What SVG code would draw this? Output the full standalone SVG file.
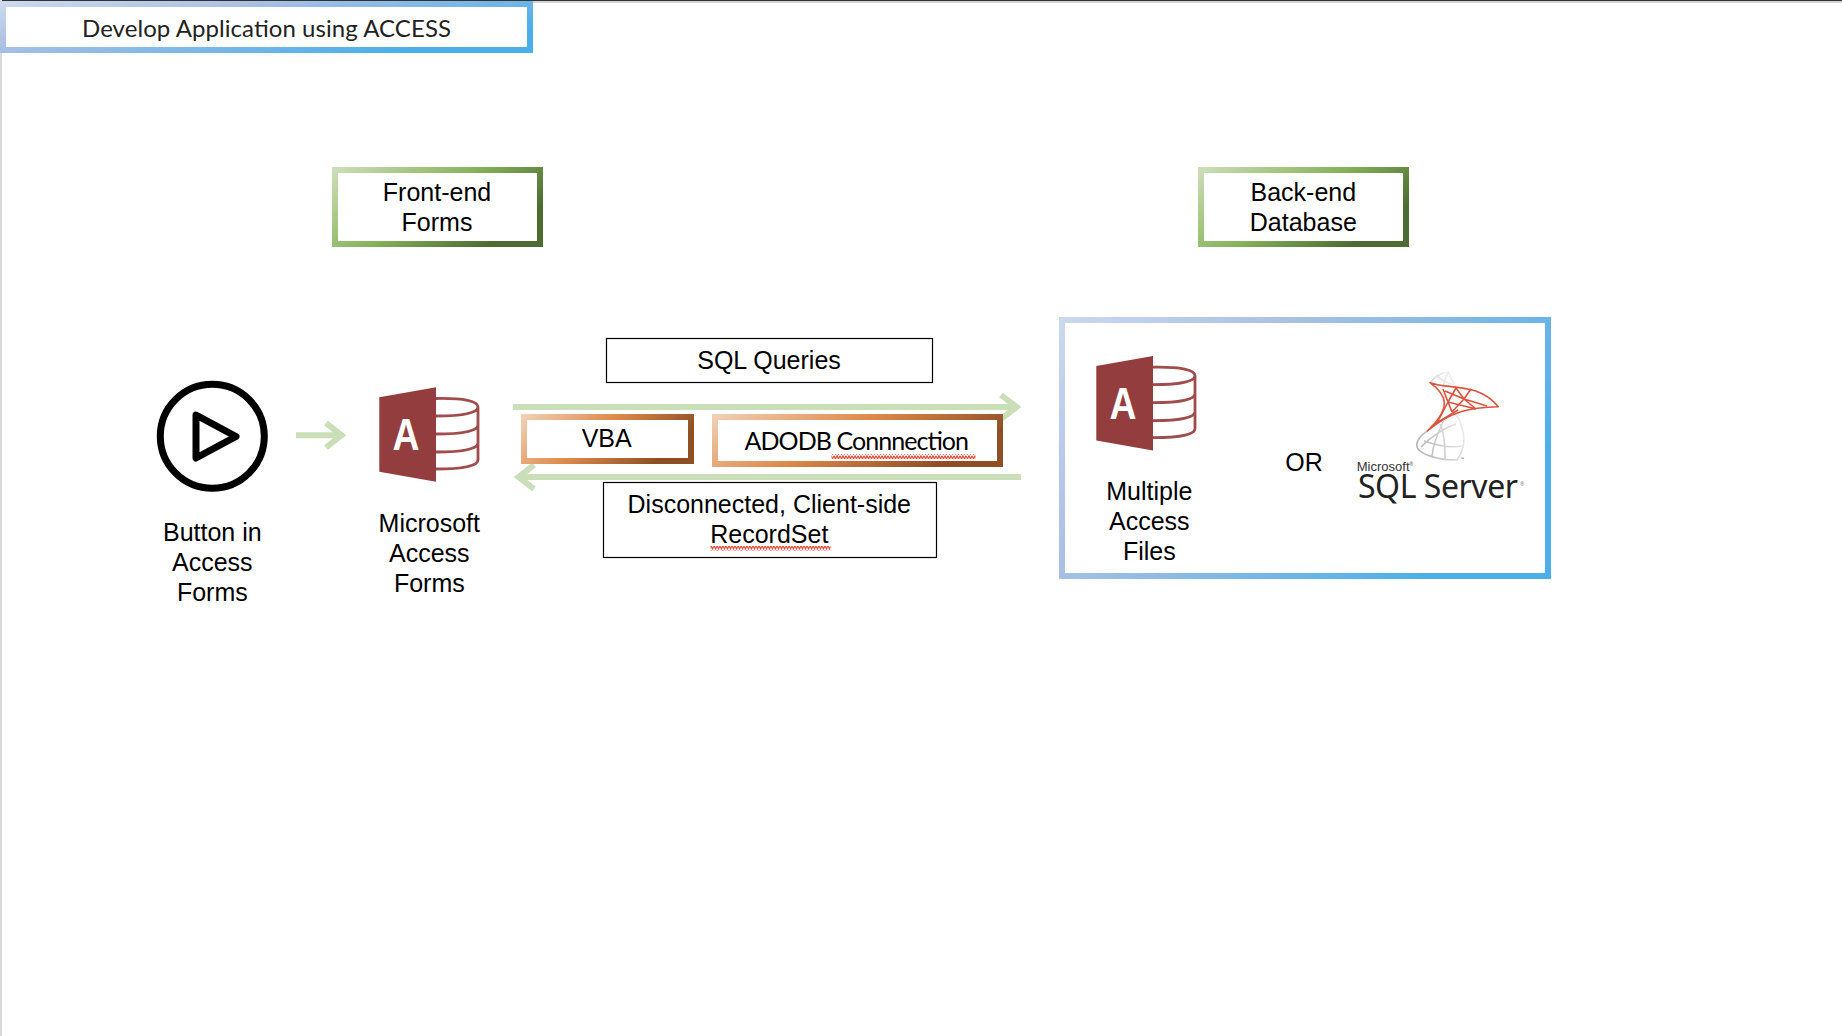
<svg xmlns="http://www.w3.org/2000/svg" xmlns:xlink="http://www.w3.org/1999/xlink" width="1842" height="1036" viewBox="0 0 1842 1036">
<style>
text{font-family:"Liberation Sans",Arial,sans-serif;font-size:25px;fill:#000;text-anchor:middle}
.cal{font-family:Lato,"Liberation Sans",sans-serif}
.box{fill:#fff;stroke:#000;stroke-width:1.2}
.bb{fill:#fff;stroke-width:6}
.conn{fill:none;stroke:#CADFB8;stroke-width:6}
.red{fill:none;stroke:#D9543F;stroke-width:1.6;stroke-linejoin:round}
.gry{fill:none;stroke:url(#grayFade);stroke-width:1.6;stroke-linejoin:round}
.acc{fill:none;stroke:#A14C4C;stroke-width:2.8}
</style>
<defs>
<linearGradient id="blue" x1="0" y1="0" x2="1" y2=".5"><stop offset="0" stop-color="#CBD8EE"/><stop offset=".35" stop-color="#ADC1E3"/><stop offset="1" stop-color="#4CAFEA"/></linearGradient>
<linearGradient id="green" x1="0" y1="0" x2="1" y2=".5"><stop offset="0" stop-color="#CBDDB6"/><stop offset=".55" stop-color="#86B25A"/><stop offset="1" stop-color="#4E6B34"/></linearGradient>
<linearGradient id="orange" x1="0" y1="0" x2="1" y2=".3"><stop offset="0" stop-color="#F0CFB4"/><stop offset=".5" stop-color="#DE8A4B"/><stop offset="1" stop-color="#8E4F25"/></linearGradient>
<linearGradient id="grayFade" gradientUnits="userSpaceOnUse" x1="1417" y1="445" x2="1466" y2="430"><stop offset="0" stop-color="#B4B4B4"/><stop offset="1" stop-color="#EDEDED"/></linearGradient>
<pattern id="wave" width="6" height="5" patternUnits="userSpaceOnUse"><path d="M0 .8L1.500 4L3 .8L4.500 4L6 .8" fill="none" stroke="#E8412F" stroke-width="1.100"/></pattern>
<g id="accessIcon">
<path d="M379.300 397.300L436 387.300V481.700L379.300 471.700Z" fill="#943D3E"/>
<path class="acc" d="M436 398.500C464 398 478 401 478 407V460C478 466 462 469 436 469M436 416C462 416 478 413 478 407M436 434C462 434 478 431 478 425M436 452C462 452 478 449 478 443"/>
<text x="406" y="450" textLength="27" lengthAdjust="spacingAndGlyphs" style="font-size:44px;font-weight:700;fill:#fff">A</text>
</g>
</defs>
<rect width="1842" height="1036" fill="#fff"/>
<g id="frame"><rect width="1842" height="3" fill="#D4D4D4"/><rect width="1842" height="1" fill="#333"/><rect y="0" width="2" height="1036" fill="#DADADA"/></g>
<g id="connectors">
<path class="conn" d="M296 435.300H341M326 423L341.500 435.300L326 447.500"/>
<path class="conn" d="M513 407H1016M1001 395L1016.500 407L1001 419"/>
<path class="conn" d="M1021 477H519M534 465L518.500 477L534 489"/>
</g>
<g id="title"><rect class="bb" x="3" y="4" width="527" height="46" stroke="url(#blue)"/><text class="cal" x="266.500" y="37" textLength="369" style="fill:#222;font-size:24px">Develop Application using ACCESS</text></g>
<g id="frontend"><rect class="bb" x="335" y="170" width="205" height="74" stroke="url(#green)"/><text x="437" y="200.700">Front-end</text><text x="437" y="230.700">Forms</text></g>
<g id="backend"><rect class="bb" x="1201" y="170" width="205" height="74" stroke="url(#green)"/><text x="1303.300" y="200.700">Back-end</text><text x="1303.300" y="230.700">Database</text></g>
<g id="button">
<circle cx="212.300" cy="436.300" r="52" fill="none" stroke="#000" stroke-width="7"/>
<path d="M196 415L236 436.500L196 458Z" fill="none" stroke="#000" stroke-width="7" stroke-linejoin="round"/>
<text x="212.300" y="541">Button in</text><text x="212.300" y="571">Access</text><text x="212.300" y="601">Forms</text>
</g>
<g id="forms">
<use href="#accessIcon"/>
<text x="429.300" y="532">Microsoft</text><text x="429.300" y="562">Access</text><text x="429.300" y="592">Forms</text>
</g>
<g id="sql"><rect class="box" x="606.500" y="338.500" width="326" height="44"/><text x="769" y="368.700">SQL Queries</text></g>
<g id="vba"><rect class="bb" x="524" y="417" width="167" height="44" stroke="url(#orange)"/><text x="606.700" y="446.700">VBA</text></g>
<g id="adodb"><rect class="bb" x="715" y="417" width="285" height="47" stroke="url(#orange)"/><text class="cal" x="856.800" y="450" textLength="224.500" style="font-size:25px">ADODB Connnection</text><rect x="831.500" y="454" width="144" height="5" fill="url(#wave)"/></g>
<g id="recordset"><rect class="box" x="603.500" y="482.500" width="333" height="75"/><text x="769.300" y="512.700">Disconnected, Client-side</text><text x="769.300" y="542.700">RecordSet</text><rect x="710.500" y="546" width="120" height="5" fill="url(#wave)"/></g>
<g id="backendGroup">
<rect class="bb" x="1062" y="320" width="486" height="256" stroke="url(#blue)"/>
<use href="#accessIcon" transform="translate(717 -31.300)"/>
<text x="1149.300" y="500">Multiple</text><text x="1149.300" y="530">Access</text><text x="1149.300" y="560">Files</text>
<text x="1304" y="470.700">OR</text>
</g>
<g id="sqlServerLogo">
<path class="gry" d="M1427.300 431C1418 437 1415 444 1418 449C1424 456 1440 460 1457 460C1464 450 1466 440 1462 428C1460 420 1457 414 1452 411M1421 447C1432 436 1444 428 1456 424M1432 456C1433 444 1438 432 1445 418M1445 459C1445 446 1444 432 1440 424M1424 441C1438 446 1452 448 1464 446"/>
<path class="gry" d="M1430 382.700C1434 377 1442 373 1448.300 371.700C1450 376 1452 381 1456 387M1436.700 375C1441 380 1447 383 1452 384M1448.300 371.700C1446 376 1444 381 1443 388"/>
<path class="red" d="M1430 382.700C1450 390 1478 382 1498.300 406.700C1470 407 1450 412 1427.300 431C1452 408 1447 395 1430 382.700Z"/>
<path class="red" d="M1443 389L1448 402L1437 423M1456 388L1448 402L1476 409M1456 388L1464 399L1452 412M1471 389L1464 399L1487 406M1445 391L1464 399M1435 424L1458 410M1448 402L1452 412M1464 399L1476 409"/>
<text x="1385" y="471" style="font-size:13px;fill:#333">Microsoft<tspan dy="-5" style="font-size:5px">®</tspan></text>
<text x="1438" y="498" textLength="160" style="font-family:'Noto Sans','Liberation Sans',sans-serif;font-size:32px;fill:#222">SQL Server</text>
<text x="1522" y="486" style="font-size:5px;fill:#555">®</text>
<text x="1462" y="460" style="font-size:4px;fill:#555">™</text>
</g>
</svg>
